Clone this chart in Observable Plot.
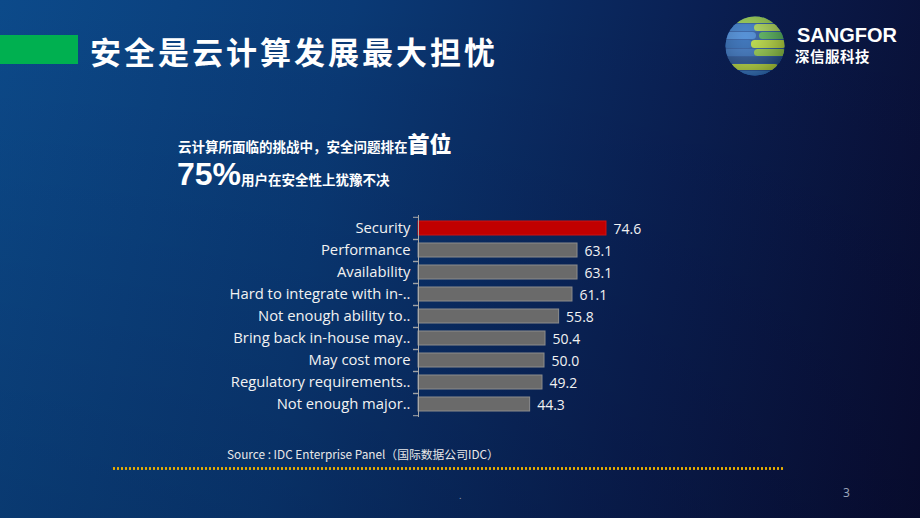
<!DOCTYPE html>
<html><head><meta charset="utf-8">
<script src="https://cdn.jsdelivr.net/npm/d3@7"></script>
<script src="https://cdn.jsdelivr.net/npm/@observablehq/plot@0.6"></script>
<style>
html,body{margin:0;padding:0;}
body{width:920px;height:518px;overflow:hidden;position:relative;
 font-family:"Noto Sans CJK SC","Noto Sans",sans-serif;
 background:linear-gradient(100deg,#0c4a8a 0%,#0a3a76 35%,#0a1f52 70%,#090d32 100%);}
.shade{position:absolute;left:0;top:0;width:920px;height:518px;
 background:linear-gradient(180deg,rgba(0,0,0,0) 0%,rgba(0,0,20,0.18) 100%);}
.abs{position:absolute;white-space:nowrap;color:#fff;line-height:1;}
#greenbar{left:0;top:35px;width:78px;height:29px;background:#00b050;position:absolute;}
#title{left:90px;top:35px;font-size:31px;font-weight:bold;letter-spacing:3px;}
#sub1{left:178px;top:131px;font-size:13.5px;font-weight:bold;}
#sub1 b{font-size:22px;}
#sub2{left:177px;top:158px;font-size:13.5px;font-weight:bold;}
#sub2 b{font-size:32px;font-family:"Liberation Sans",Arial,sans-serif;}
#source{left:227px;top:448px;font-size:11.8px;color:#e8e8e8;}
#dots{position:absolute;left:112px;top:467px;width:672px;height:3px;
 background-image:radial-gradient(circle,#e8b000 1.1px,transparent 1.3px);background-size:4px 3px;}
#pg{left:843px;top:487px;font-size:12px;color:#9aa3b8;font-family:"Noto Sans",sans-serif;}
#dot{left:459px;top:491px;font-size:9px;color:#8890a8;}
#brand{left:797px;top:25px;font-size:20px;font-weight:bold;font-family:"Liberation Sans",Arial,sans-serif;}
#brand2{left:795px;top:49px;font-size:14.5px;font-weight:bold;letter-spacing:0.5px;}
#chart{position:absolute;left:0;top:205px;}
</style></head>
<body>
<div class="shade"></div>
<div id="greenbar"></div>
<div class="abs" id="title">安全是云计算发展最大担忧</div>
<svg style="position:absolute;left:724px;top:15px" width="62" height="62" viewBox="0 0 62 62">
 <defs><clipPath id="g"><circle cx="31" cy="31" r="29.5"/></clipPath>
 <radialGradient id="sh" cx="0.35" cy="0.35" r="0.75"><stop offset="0" stop-color="#fff" stop-opacity="0.15"/><stop offset="1" stop-color="#000" stop-opacity="0.35"/></radialGradient></defs>
 <g clip-path="url(#g)">
  <rect width="62" height="62" fill="#1d4f9c"/>
  <rect x="10" y="1" width="44" height="7" rx="3.5" fill="#8cc63f"/>
  <rect x="0" y="9" width="38" height="7" rx="3.5" fill="#2a6fc0"/>
  <rect x="30" y="9" width="32" height="7" rx="3.5" fill="#a5d24a"/>
  <rect x="0" y="17" width="32" height="7" rx="3.5" fill="#3a7fd0"/>
  <rect x="35" y="17" width="27" height="7" rx="3.5" fill="#4caf50"/>
  <rect x="0" y="25" width="28" height="8" rx="3.5" fill="#1f5fb0"/>
  <rect x="27" y="25" width="35" height="8" rx="3.5" fill="#b5d935"/>
  <rect x="0" y="34" width="33" height="7" rx="3.5" fill="#2a68b8"/>
  <rect x="30" y="34" width="32" height="7" rx="3.5" fill="#8cc63f"/>
  <rect x="0" y="42" width="62" height="6" rx="3" fill="#1a4a90"/>
  <rect x="4" y="49" width="50" height="6" rx="3" fill="#b5d935"/>
  <rect x="10" y="56" width="40" height="6" rx="3" fill="#2a6fc0"/>
  <rect width="62" height="62" fill="url(#sh)"/>
 </g>
</svg>
<div class="abs" id="brand">SANGFOR</div>
<div class="abs" id="brand2">深信服科技</div>
<div class="abs" id="sub1">云计算所面临的挑战中，安全问题排在<b>首位</b></div>
<div class="abs" id="sub2"><b>75%</b>用户在安全性上犹豫不决</div>
<div id="chart"></div>
<div class="abs" id="source">Source : IDC Enterprise Panel（国际数据公司IDC）</div>
<div id="dots"></div>
<div class="abs" id="dot">.</div>
<div class="abs" id="pg">3</div>
<script>
const categories = ["Security","Performance","Availability","Hard to integrate with in-..","Not enough ability to..","Bring back in-house may..","May cost more","Regulatory requirements..","Not enough major.."];
const values = [74.6,63.1,63.1,61.1,55.8,50.4,50.0,49.2,44.3];
const highlight = "Security";
const data = categories.map((c,i)=>({cat:c, value:values[i]}));

const chart = Plot.plot({
  width: 700, height: 220,
  marginLeft: 418, marginRight: 30, marginTop: 10, marginBottom: 8,
  style:{background:"transparent", color:"#f2f2f2", fontFamily:"'Open Sans','Noto Sans',sans-serif"},
  x:{domain:[0,100], axis:null},
  y:{domain:categories, paddingInner:0.38, paddingOuter:0.19, axis:null, label:null},
  marks:[
    Plot.barX(data,{y:"cat", x:"value", fill:d=>d.cat===highlight?"#c00000":"#6a6a6a",
      stroke:d=>d.cat===highlight?"#d01010":"#8c8c8c", strokeWidth:1}),
    Plot.text(data,{y:"cat", x:"value", text:d=>d.value.toFixed(1), textAnchor:"start", dx:7, dy:1,
      fill:"#f2f2f2", fontSize:14}),
    Plot.axisY({tickSize:0, tickPadding:8, fontSize:14.8, fill:"#f2f2f2", dy:0, label:null}),
    Plot.axisY({text:null, tickSize:5, dy:-11.2, stroke:"#a8a8a8", label:null}),
    Plot.axisY({text:null, tickSize:5, dy:11.2, stroke:"#a8a8a8", label:null}),
    Plot.ruleX([0],{stroke:"#a8a8a8"})
  ]
});
document.getElementById("chart").appendChild(chart);
</script>
</body></html>
